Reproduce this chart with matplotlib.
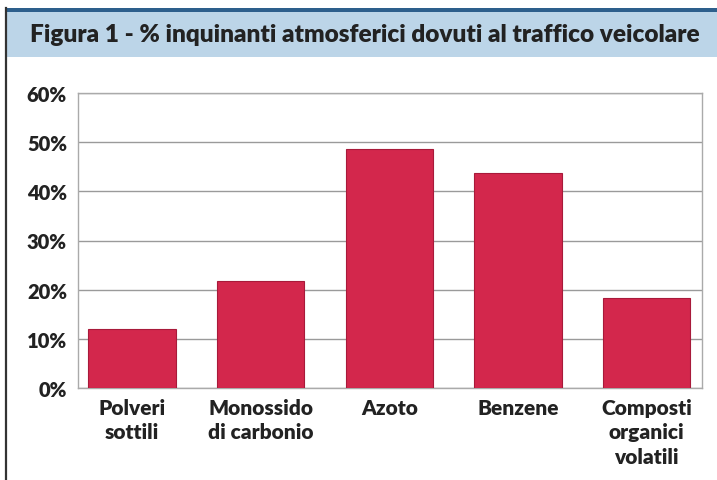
import matplotlib.pyplot as plt
from matplotlib.patches import Rectangle

categorie = ["Polveri\nsottili", "Monossido\ndi carbonio", "Azoto", "Benzene",
             "Composti\norganici\nvolatili"]
percentuali = [12, 21.7, 48.6, 43.8, 18.4]
tick_y = [0, 10, 20, 30, 40, 50, 60]
titolo = "Figura 1 - % inquinanti atmosferici dovuti al traffico veicolare"

plt.rcParams['font.family'] = ['Lato', 'DejaVu Sans']

W, H = 717, 481
fig = plt.figure(figsize=(W / 100, H / 100), dpi=100)
fig.patch.set_facecolor("white")

# intestazione azzurra con filetto blu
fig.patches.append(Rectangle((5 / W, 1 - 58 / H), 1 - 5 / W, 46 / H,
                             transform=fig.transFigure, facecolor="#bcd5e8",
                             edgecolor="none", zorder=0))
fig.patches.append(Rectangle((5 / W, 1 - 13 / H), 1 - 5 / W, 4 / H,
                             transform=fig.transFigure, facecolor="#2d5f8c",
                             edgecolor="none", zorder=1))
# bordo sinistro
fig.lines.append(plt.Line2D([5.5 / W, 5.5 / W], [0, 1 - 9 / H],
                            transform=fig.transFigure, color="#333333", lw=1.6))

fig.text(365 / W, 1 - 35 / H, titolo, ha="center", va="center",
         fontsize=17.6, fontweight="heavy", color="#222222")

ax = fig.add_axes([78 / W, (H - 389) / H, 624 / W, 295 / H])
x = range(len(categorie))
ax.bar(x, percentuali, width=0.68, color="#d3274c", edgecolor="#a81a3a",
       linewidth=0.8, zorder=3)

ax.set_ylim(0, 60)
ax.set_xlim(-0.42, 4.43)
ax.set_yticks(tick_y)
ax.set_yticklabels([f"{v}%" for v in tick_y])
ax.set_xticks(list(x))
ax.set_xticklabels(categorie, linespacing=1.35)
ax.yaxis.grid(True, color="#9a9a9a", lw=1.0, zorder=0)
ax.tick_params(axis="y", length=0, labelsize=14.5, colors="#222222", pad=8)
ax.tick_params(axis="x", length=0, labelsize=15, colors="#222222", pad=7)
for lab in ax.get_xticklabels() + ax.get_yticklabels():
    lab.set_fontweight("heavy")
for s in ax.spines.values():
    s.set_color("#aaaaaa")
    s.set_linewidth(1.0)

fig.savefig("out.png", dpi=100)
